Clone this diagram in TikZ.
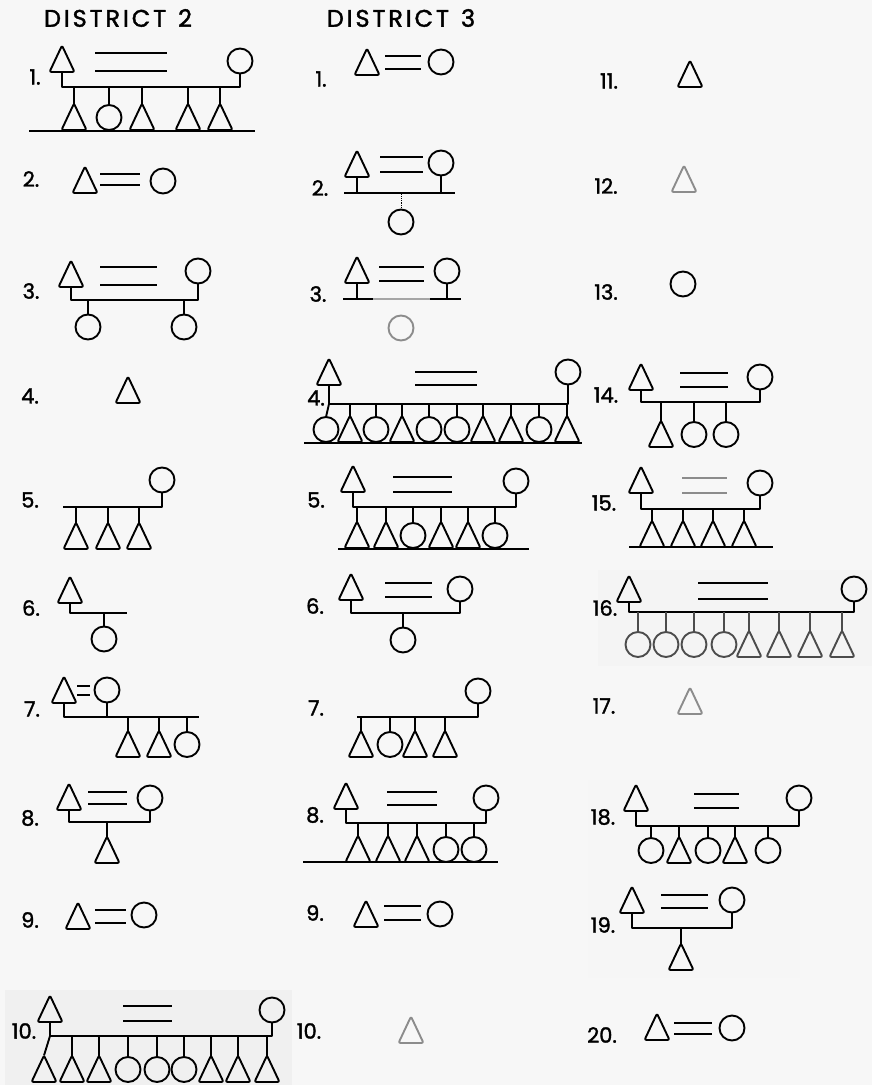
\documentclass[tikz,border=0pt]{standalone}
\usepackage{fontspec}
\setmainfont{Poppins}
\newfontfamily\labfont{Poppins}[FakeBold=1.6]
\usetikzlibrary{shapes.geometric,positioning}

\tikzset{
  sym/.style={draw, line width=1.9pt, inner sep=0pt, outer sep=0pt, anchor=south},
  male/.style={sym, isosceles triangle, isosceles triangle stretches, shape border rotate=90,
    minimum width=25pt, minimum height=26.5pt, rounded corners=2pt},
  female/.style={sym, circle, minimum size=25pt},
  faded/.style={draw=black!45},
  tie/.style={line width=1.9pt},
  num/.style={font=\labfont\fontsize{21}{21}\selectfont},
  head/.style={font=\labfont\fontsize{24}{24}\selectfont\addfontfeatures{LetterSpace=12}},
}

\begin{document}
\begin{tikzpicture}[x=1pt, y=-1pt, line join=round]
\fill[gray!6] (0,0) rectangle (872,1085);
\useasboundingbox (0,0) rectangle (872,1085);
% scanned patches
\fill[gray!12] (5,990) rectangle (292,1085);
\fill[gray!9] (598,570) rectangle (872,666);
\fill[gray!7] (588,780) rectangle (800,978);

% ---------------- District 2 ----------------
\node[head] (h2) at (118,18) {DISTRICT\enspace 2};

% 1
\node[num] (a1n) at (35,77) {1.};
\node[male] (a1f) at (62,72) {};
\node[female] (a1m) at (240,73.5) {};
\draw[tie] (95,53) -- (167,53) (95,71) -- (167,71);
\coordinate (a1s) at (240,87);
\draw[tie] (a1f.south) |- (a1s) -- (a1m.south);
\foreach \x/\s [count=\i] in {74/male,109/female,142/male,188/male,220/male}
  {\node[\s] (a1c\i) at (\x,130) {}; \draw[tie] (a1c\i.north) -- (a1c\i.north |- a1s);}
\draw[tie] (29,131) -- (255,131);

% 2
\node[num] (a2n) at (31,179) {2.};
\node[male] (a2f) at (85,193) {};
\node[female] (a2m) at (163,193.5) {};
\draw[tie] (100,174) -- (140,174) (100,185) -- (140,185);

% 3
\node[num] (a3n) at (31,291) {3.};
\node[male] (a3f) at (71,287) {};
\node[female] (a3m) at (198,283.5) {};
\draw[tie] (100,267) -- (157,267) (100,285) -- (157,285);
\coordinate (a3s) at (198,300);
\draw[tie] (a3f.south) |- (a3s) -- (a3m.south);
\foreach \x [count=\i] in {88,184}
  {\node[female] (a3c\i) at (\x,339.5) {}; \draw[tie] (a3c\i.north) -- (a3c\i.north |- a3s);}

% 4
\node[num] (a4n) at (30,396) {4.};
\node[male] (a4f) at (128,403) {};

% 5
\node[num] (a5n) at (30,500) {5.};
\node[female] (a5m) at (162,492.5) {};
\coordinate (a5l) at (63,507);
\draw[tie] (a5m.south) |- (a5l);
\foreach \x [count=\i] in {76,108,139}
  {\node[male] (a5c\i) at (\x,549) {}; \draw[tie] (a5c\i.north) -- (a5c\i.north |- a5l);}

% 6
\node[num] (a6n) at (31,608) {6.};
\node[male] (a6f) at (70,603) {};
\coordinate (a6r) at (127,613);
\draw[tie] (a6f.south) |- (a6r);
\node[female] (a6c1) at (104,651.5) {};
\draw[tie] (a6c1.north) -- (a6c1.north |- a6r);

% 7
\node[num] (a7n) at (32,709) {7.};
\node[male] (a7f) at (64,703) {};
\node[female] (a7m) at (107,702.5) {};
\draw[tie] (77,686) -- (90,686) (77,695) -- (90,695);
\coordinate (a7r) at (199,717);
\draw[tie] (a7f.south) |- (a7r);
\draw[tie] (a7m.south) -- (a7m.south |- a7r);
\foreach \x/\s [count=\i] in {128/male,159/male,187/female}
  {\node[\s] (a7c\i) at (\x,757) {}; \draw[tie] (a7c\i.north) -- (a7c\i.north |- a7r);}

% 8
\node[num] (a8n) at (30,818) {8.};
\node[male] (a8f) at (69,810) {};
\node[female] (a8m) at (150,810.5) {};
\draw[tie] (88,792) -- (127,792) (88,804) -- (127,804);
\coordinate (a8s) at (150,822);
\draw[tie] (a8f.south) |- (a8s) -- (a8m.south);
\node[male] (a8c1) at (107,863) {};
\draw[tie] (a8c1.north) -- (a8c1.north |- a8s);

% 9
\node[num] (a9n) at (30,920) {9.};
\node[male] (a9f) at (78,929) {};
\node[female] (a9m) at (144,927.5) {};
\draw[tie] (95,910) -- (126,910) (95,923) -- (126,923);

% 10
\node[num] (a10n) at (24,1031) {10.};
\node[male] (a10f) at (50,1022) {};
\node[female] (a10m) at (272,1022.5) {};
\draw[tie] (123,1006) -- (172,1006) (123,1021) -- (172,1021);
\coordinate (a10s) at (272,1036);
\draw[tie] (a10f.south) |- (a10s) -- (a10m.south);
\node[male] (a10c1) at (44,1082) {};
\draw[tie] (a10c1.north) -- (a10f.south |- a10s);
\foreach \x/\s [count=\i from 2] in {72/male,99/male,128/female,157/female,184/female,211/male,238/male,267/male}
  {\node[\s] (a10c\i) at (\x,1082) {}; \draw[tie] (a10c\i.north) -- (a10c\i.north |- a10s);}

% ---------------- District 3 ----------------
\node[head] (h3) at (401,18) {DISTRICT\enspace 3};

% 1
\node[num] (b1n) at (321,79) {1.};
\node[male] (b1f) at (367,75) {};
\node[female] (b1m) at (441,74.5) {};
\draw[tie] (385,56) -- (421,56) (385,69) -- (421,69);

% 2
\node[num] (b2n) at (320,188) {2.};
\node[male] (b2f) at (357,177) {};
\node[female] (b2m) at (441,175.5) {};
\draw[tie] (380,157) -- (423,157) (380,172) -- (423,172);
\coordinate (b2l) at (344,193);
\coordinate (b2r) at (455,193);
\draw[tie] (b2l) -- (b2r);
\draw[tie] (b2f.south) -- (b2f.south |- b2l);
\draw[tie] (b2m.south) -- (b2m.south |- b2l);
\node[female] (b2c1) at (401,234.5) {};
\draw[line width=0.8pt, densely dotted] (b2c1.north) -- (b2c1.north |- b2l);

% 3
\node[num] (b3n) at (318,294) {3.};
\node[male] (b3f) at (357,283) {};
\node[female] (b3m) at (447,283.5) {};
\draw[tie] (379,267) -- (424,267) (379,281) -- (424,281);
\coordinate (b3l) at (343,299);
\coordinate (b3r) at (461,299);
\draw[tie] (b3l) -- (373,299);
\draw[tie, black!35] (373,299) -- (430,299);
\draw[tie] (430,299) -- (b3r);
\draw[tie] (b3f.south) -- (b3f.south |- b3l);
\draw[tie] (b3m.south) -- (b3m.south |- b3l);
\node[female, faded] (b3c1) at (401,340.5) {};

% 4
\node[num] (b4n) at (316,398) {4.};
\node[male] (b4f) at (329,385) {};
\node[female] (b4m) at (568,384.5) {};
\draw[tie] (415,372) -- (477,372) (415,385) -- (477,385);
\coordinate (b4s) at (568,404);
\draw[tie] (b4f.south) |- (b4s) -- (b4m.south);
\node[female] (b4c1) at (326,442) {};
\draw[tie] (b4c1.north) -- (b4f.south |- b4s);
\foreach \x/\s [count=\i from 2] in {350/male,376/female,402/male,429/female,457/female,483/male,511/male,539/female,567/male}
  {\node[\s] (b4c\i) at (\x,442) {}; \draw[tie] (b4c\i.north) -- (b4c\i.north |- b4s);}
\draw[tie] (304,443) -- (582,443);

% 5
\node[num] (b5n) at (316,500) {5.};
\node[male] (b5f) at (353,492) {};
\node[female] (b5m) at (516,493.5) {};
\draw[tie] (393,477) -- (452,477) (393,492) -- (452,492);
\coordinate (b5s) at (516,507);
\draw[tie] (b5f.south) |- (b5s) -- (b5m.south);
\foreach \x/\s [count=\i] in {357/male,386/male,413/female,441/male,468/male,495/female}
  {\node[\s] (b5c\i) at (\x,548) {}; \draw[tie] (b5c\i.north) -- (b5c\i.north |- b5s);}
\draw[tie] (338,549) -- (529,549);

% 6
\node[num] (b6n) at (315,606) {6.};
\node[male] (b6f) at (351,600) {};
\node[female] (b6m) at (460,601.5) {};
\draw[tie] (385,583) -- (432,583) (385,597) -- (432,597);
\coordinate (b6s) at (460,613);
\draw[tie] (b6f.south) |- (b6s) -- (b6m.south);
\node[female] (b6c1) at (403,652.5) {};
\draw[tie] (b6c1.north) -- (b6c1.north |- b6s);

% 7
\node[num] (b7n) at (316,708) {7.};
\node[female] (b7m) at (478,703.5) {};
\coordinate (b7l) at (357,717);
\draw[tie] (b7m.south) |- (b7l);
\foreach \x/\s [count=\i] in {361/male,390/female,415/male,445/male}
  {\node[\s] (b7c\i) at (\x,757) {}; \draw[tie] (b7c\i.north) -- (b7c\i.north |- b7l);}

% 8
\node[num] (b8n) at (315,815) {8.};
\node[male] (b8f) at (346,809) {};
\node[female] (b8m) at (486,810.5) {};
\draw[tie] (387,792) -- (437,792) (387,805) -- (437,805);
\coordinate (b8s) at (486,823);
\draw[tie] (b8f.south) |- (b8s) -- (b8m.south);
\foreach \x/\s [count=\i] in {358/male,388/male,417/male,446/female,474/female}
  {\node[\s] (b8c\i) at (\x,862) {}; \draw[tie] (b8c\i.north) -- (b8c\i.north |- b8s);}
\draw[tie] (303,862) -- (498,862);

% 9
\node[num] (b9n) at (315,913) {9.};
\node[male] (b9f) at (366,927) {};
\node[female] (b9m) at (440,926.5) {};
\draw[tie] (384,906) -- (421,906) (384,920) -- (421,920);

% 10
\node[num] (b10n) at (309,1031) {10.};
\node[male, faded] (b10f) at (411,1043) {};

% 11
\node[num] (b11n) at (609,81) {11.};
\node[male] (b11f) at (690,87) {};

% 12
\node[num] (b12n) at (606,186) {12.};
\node[male, faded] (b12f) at (684,192) {};

% 13
\node[num] (b13n) at (606,292) {13.};
\node[female] (b13m) at (683,296.5) {};

% 14
\node[num] (b14n) at (606,395) {14.};
\node[male] (b14f) at (641,390) {};
\node[female] (b14m) at (760,389.5) {};
\draw[tie] (680,373) -- (728,373) (680,387) -- (728,387);
\coordinate (b14s) at (760,402);
\draw[tie] (b14f.south) |- (b14s) -- (b14m.south);
\foreach \x/\s [count=\i] in {661/male,694/female,726/female}
  {\node[\s] (b14c\i) at (\x,447) {}; \draw[tie] (b14c\i.north) -- (b14c\i.north |- b14s);}

% 15
\node[num] (b15n) at (604,503) {15.};
\node[male] (b15f) at (641,493) {};
\node[female] (b15m) at (760,495.5) {};
\draw[tie, black!45] (682,478) -- (727,478) (682,493) -- (727,493);
\coordinate (b15s) at (760,509);
\draw[tie] (b15f.south) |- (b15s) -- (b15m.south);
\foreach \x [count=\i] in {652,683,713,744}
  {\node[male] (b15c\i) at (\x,547) {}; \draw[tie] (b15c\i.north) -- (b15c\i.north |- b15s);}
\draw[tie] (629,547) -- (773,547);

% 16
\node[num] (b16n) at (605,608) {16.};
\node[male] (b16f) at (629,602) {};
\node[female] (b16m) at (854,601.5) {};
\draw[tie] (698,583) -- (768,583) (698,599) -- (768,599);
\coordinate (b16s) at (854,612);
\draw[tie] (b16f.south) |- (b16s) -- (b16m.south);
\foreach \x/\s [count=\i] in {638/female,666/female,694/female,724/female,749/male,779/male,810/male,842/male}
  {\node[\s, draw=black!70] (b16c\i) at (\x,657) {}; \draw[tie, black!70] (b16c\i.north) -- (b16c\i.north |- b16s);}

% 17
\node[num] (b17n) at (604,706) {17.};
\node[male, faded] (b17f) at (690,714) {};

% 18
\node[num] (b18n) at (603,817) {18.};
\node[male] (b18f) at (636,811) {};
\node[female] (b18m) at (799,810.5) {};
\draw[tie] (694,794) -- (739,794) (694,808) -- (739,808);
\coordinate (b18s) at (799,826);
\draw[tie] (b18f.south) |- (b18s) -- (b18m.south);
\foreach \x/\s [count=\i] in {651/female,679/male,708/female,735/male,768/female}
  {\node[\s] (b18c\i) at (\x,863) {}; \draw[tie] (b18c\i.north) -- (b18c\i.north |- b18s);}

% 19
\node[num] (b19n) at (603,925) {19.};
\node[male] (b19f) at (632,913) {};
\node[female] (b19m) at (732,912.5) {};
\draw[tie] (661,895) -- (708,895) (661,908) -- (708,908);
\coordinate (b19s) at (732,928);
\draw[tie] (b19f.south) |- (b19s) -- (b19m.south);
\node[male] (b19c1) at (681,970) {};
\draw[tie] (b19c1.north) -- (b19c1.north |- b19s);

% 20
\node[num] (b20n) at (602,1035) {20.};
\node[male] (b20f) at (657,1040) {};
\node[female] (b20m) at (732,1040.5) {};
\draw[tie] (674,1023) -- (712,1023) (674,1034) -- (712,1034);
\end{tikzpicture}
\end{document}
